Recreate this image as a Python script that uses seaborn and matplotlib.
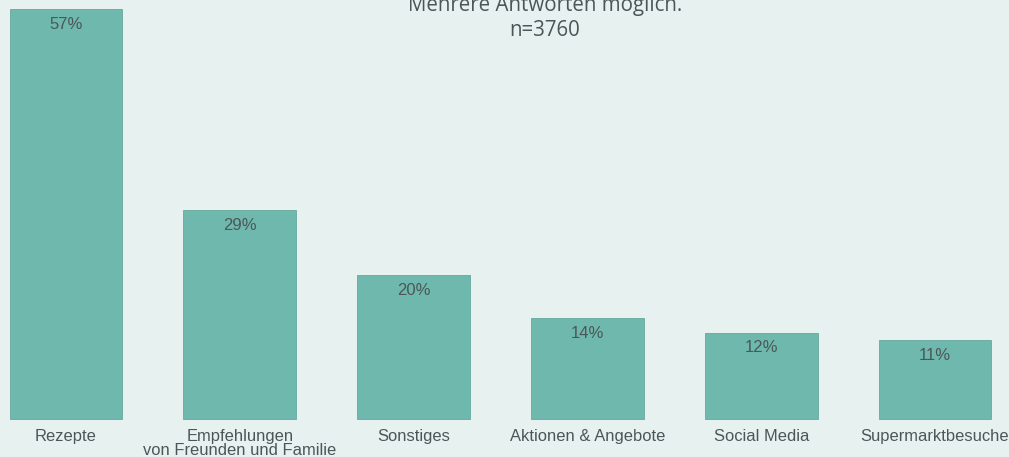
import pandas as pd
import seaborn as sns
import matplotlib
matplotlib.use("Agg")
import matplotlib.pyplot as plt

categories = ["Rezepte", "Empfehlungen\nvon Freunden und Familie", "Sonstiges",
              "Aktionen & Angebote", "Social Media", "Supermarktbesuche"]
values = [57, 29, 20, 14, 12, 11]
title_lines = ["Mehrere Antworten möglich.", "n=3760"]

bg = "#e6f1f0"
bar_color = "#6fb8ad"
text_color = "#4b5757"

df = pd.DataFrame({"cat": categories, "pct": values})

sns.set_theme(style="white")
plt.rcParams["font.family"] = ["Liberation Sans", "DejaVu Sans"]

fig = plt.figure(figsize=(10.09, 4.57), dpi=100, facecolor=bg)
ax = fig.add_axes([0, 0, 1, 1])
ax.set_facecolor(bg)

sns.barplot(data=df, x="cat", y="pct", color=bar_color, saturation=1,
            width=0.65, edgecolor="#64a89e", linewidth=0.6, ax=ax)

# pixel mapping: category 0 at x=66px, step ~173.8px; baseline at 38px from bottom
step = 173.8
ax.set_xlim(-66 / step, (1009 - 66) / step)
ppu = 7.19
ax.set_ylim(-38 / ppu, (457 - 38) / ppu)

for i, v in enumerate(values):
    ax.annotate(f"{v}%", (i, v), xytext=(0, -11), textcoords="offset points",
                ha="center", va="center", fontsize=12, color=text_color)

for i, c in enumerate(categories):
    ax.text(i, -10 / ppu, c, ha="center", va="top", fontsize=11.9,
            color=text_color, linespacing=0.88)

for s in ax.spines.values():
    s.set_visible(False)
ax.set_xticks([])
ax.set_yticks([])
ax.set_xlabel("")
ax.set_ylabel("")

fig.text(545 / 1009, 1 - 6 / 457, title_lines[0], ha="center", va="center",
         fontsize=14.8, color=text_color, family=["Open Sans", "DejaVu Sans"])
fig.text(545 / 1009, 1 - 31 / 457, title_lines[1], ha="center", va="center",
         fontsize=14.8, color=text_color, family=["Open Sans", "DejaVu Sans"])

fig.savefig("out.png", dpi=100, facecolor=bg)
